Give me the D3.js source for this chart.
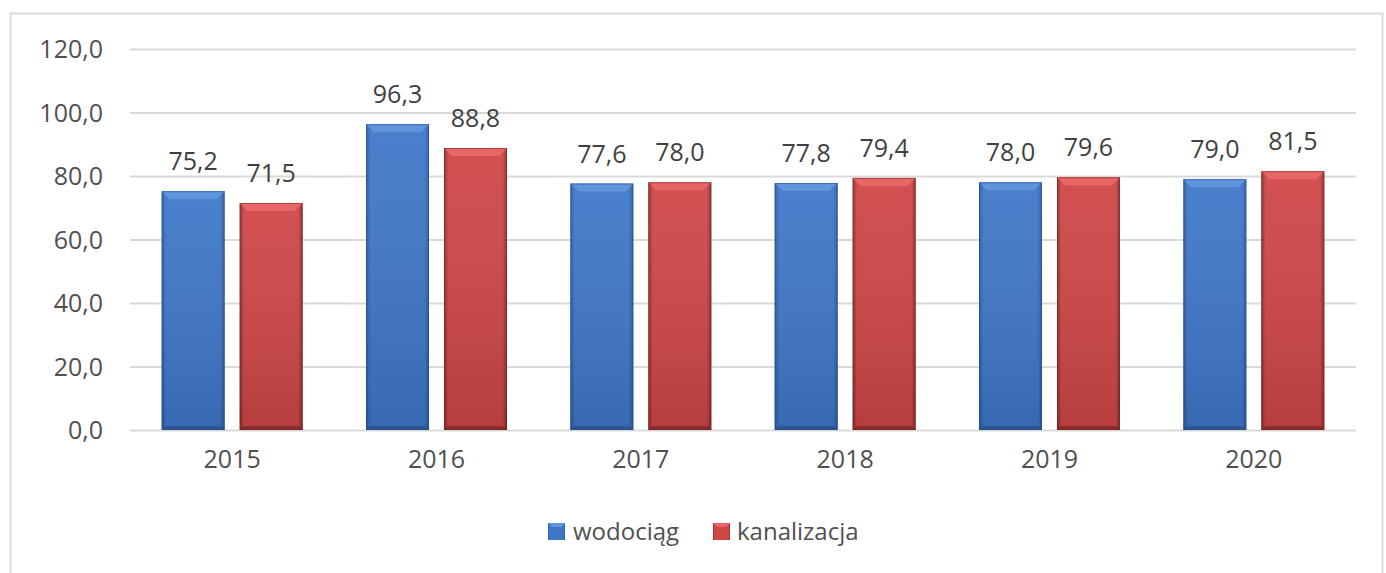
<!DOCTYPE html>
<html><head><meta charset="utf-8">
<script src="https://cdn.jsdelivr.net/npm/d3@7"></script>
<style>body{margin:0;background:#fff;}svg{display:block;font-family:"Open Sans",sans-serif;}</style>
</head><body><svg id="c" width="1386" height="573"></svg>
<script>
const categories = ["2015","2016","2017","2018","2019","2020"];
const seriesNames = ["wodociąg","kanalizacja"];
const wodociag = [75.2,96.3,77.6,77.8,78.0,79.0];
const kanalizacja = [71.5,88.8,78.0,79.4,79.6,81.5];
const yTicks = [0,20,40,60,80,100,120];

const svg = d3.select("#c");
const fmt = v => d3.format(".1f")(v).replace(".", ",");
const M = {l:130, r:1356, t:49, b:430};

svg.append("path").attr("d",`M10.5,573V13.5H1382.5V573`).attr("fill","none").attr("stroke","#d9d9d9").attr("stroke-width",2);

const x = d3.scaleBand().domain(categories).range([M.l,M.r]).paddingInner(0).paddingOuter(0);
const xs = d3.scaleBand().domain(seriesNames).range([0,x.bandwidth()]).paddingInner(0.192).paddingOuter(0.406);
const y = d3.scaleLinear().domain([0,120]).range([M.b,M.t]);

const defs = svg.append("defs");
const pal = {
  "wodociąg": {edge:"#2b589f", mid:"#3e77c8", light:"#5e95de", dark:"#24497f"},
  "kanalizacja": {edge:"#8e2a2a", mid:"#cf4646", light:"#e86666", dark:"#6e1f1f"}
};
seriesNames.forEach((s,i)=>{
  const p = pal[s];
  const gh = defs.append("linearGradient").attr("id","gh"+i).attr("x1",0).attr("x2",1).attr("y1",0).attr("y2",0);
  gh.append("stop").attr("offset","0").attr("stop-color",p.edge);
  gh.append("stop").attr("offset","0.07").attr("stop-color",p.mid);
  gh.append("stop").attr("offset","0.93").attr("stop-color",p.mid);
  gh.append("stop").attr("offset","1").attr("stop-color",p.edge);
  const gv = defs.append("linearGradient").attr("id","gv"+i).attr("x1",0).attr("x2",0).attr("y1",0).attr("y2",1);
  gv.append("stop").attr("offset","0").attr("stop-color","#fff").attr("stop-opacity",0.06);
  gv.append("stop").attr("offset","1").attr("stop-color","#000").attr("stop-opacity",0.12);
});

// y axis
const yAxis = d3.axisLeft(y).tickValues(yTicks).tickFormat(fmt).tickSize(-(M.r-M.l)).tickPadding(27);
const gy = svg.append("g").attr("transform",`translate(${M.l},0)`).call(yAxis);
gy.select(".domain").remove();
gy.selectAll(".tick line").attr("stroke","#d9d9d9").attr("stroke-width",2);
gy.selectAll(".tick text").attr("fill","#505050").attr("font-size",25).attr("font-family","Open Sans").attr("dy","0.35em");

// x axis
const xAxis = d3.axisBottom(x).tickSize(0).tickPadding(20);
const gx = svg.append("g").attr("transform",`translate(0,${M.b})`).call(xAxis);
gx.select(".domain").remove();
gx.selectAll(".tick text").attr("fill","#505050").attr("font-size",25).attr("font-family","Open Sans");

const data = categories.map((c,k)=>({c, vals:[wodociag[k],kanalizacja[k]]}));
const groups = svg.append("g").selectAll("g").data(data).join("g").attr("transform",d=>`translate(${x(d.c)},0)`);

seriesNames.forEach((s,i)=>{
  const p = pal[s];
  const bw = xs.bandwidth();
  groups.each(function(d){
    const g = d3.select(this);
    const v = d.vals[i];
    const x0 = xs(s), yt = y(v), yb = y(0), h = yb-yt;
    g.append("rect").attr("x",x0).attr("y",yt).attr("width",bw).attr("height",h).attr("fill",`url(#gh${i})`);
    g.append("rect").attr("x",x0).attr("y",yt).attr("width",bw).attr("height",h).attr("fill",`url(#gv${i})`);
    const bv = 8;
    g.append("path").attr("d",`M${x0},${yt}H${x0+bw}L${x0+bw-bv},${yt+bv}H${x0+bv}Z`).attr("fill",p.light);
    g.append("path").attr("d",`M${x0},${yb}H${x0+bw}L${x0+bw-4},${yb-4}H${x0+4}Z`).attr("fill",p.dark).attr("opacity",0.6);
    g.append("rect").attr("x",x0+0.5).attr("y",yt+0.5).attr("width",bw-1).attr("height",h-1).attr("fill","none").attr("stroke",p.dark).attr("stroke-opacity",0.5);
    g.append("text").attr("x",x0+bw/2).attr("y",yt-21).attr("text-anchor","middle")
      .attr("fill","#404040").attr("font-size",25).text(fmt(v));
  });
});

// legend
const leg = [{s:"wodociąg",x:548,tx:573},{s:"kanalizacja",x:713,tx:737}];
leg.forEach((L,i)=>{
  const p = pal[L.s];
  svg.append("rect").attr("x",L.x).attr("y",523).attr("width",17).attr("height",17).attr("fill",`url(#gh${i})`);
  svg.append("path").attr("d",`M${L.x},523h17l-4,4h-9z`).attr("fill",p.light);
  svg.append("text").attr("x",L.tx).attr("y",540).attr("fill","#505050").attr("font-size",24).text(L.s);
});
</script></body></html>
